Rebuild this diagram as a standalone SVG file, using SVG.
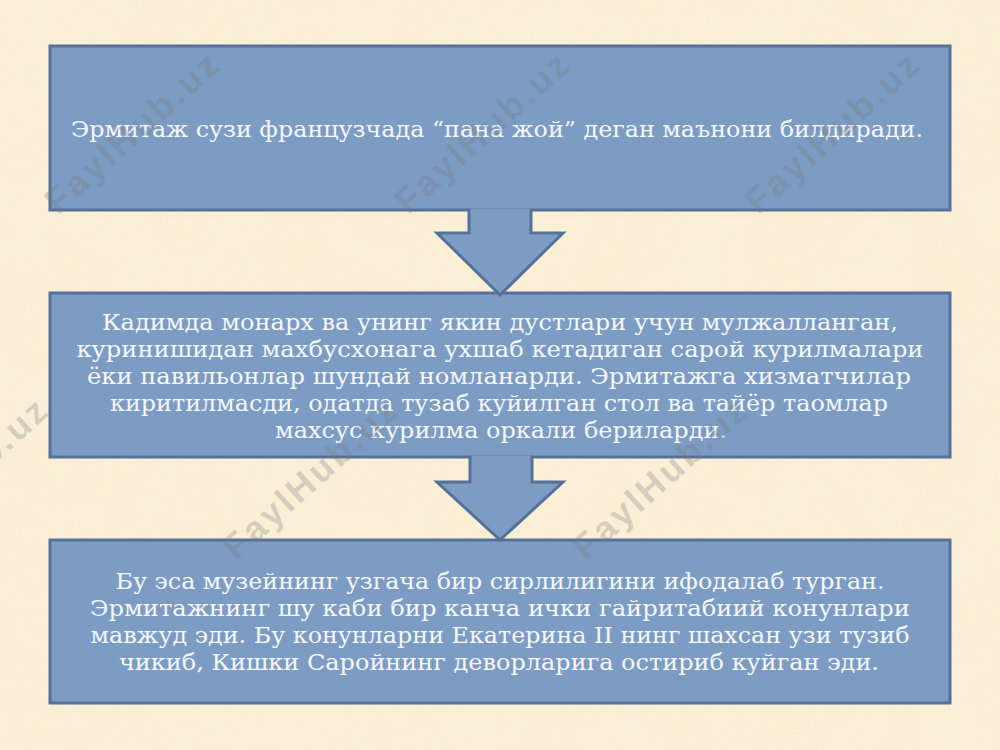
<svg xmlns="http://www.w3.org/2000/svg" width="1000" height="750" viewBox="0 0 1000 750">
<style>
.box{fill:#7c9cc4;stroke:#56709a;stroke-width:3}
.arr{fill:#7c9cc4;stroke:#56709a;stroke-width:3;stroke-linejoin:miter}
.t{font-family:"DejaVu Serif","Liberation Serif",serif;font-size:22.5px;fill:#f5f7fb;text-anchor:middle}
.wm{font-family:"Liberation Sans",Arial,sans-serif;font-weight:bold;font-size:36px;fill:#7a7a7a;fill-opacity:0.28}
</style>
<defs>
<filter id="paper" x="0" y="0" width="100%" height="100%">
<feTurbulence type="fractalNoise" baseFrequency="0.012" numOctaves="3" seed="4" result="n"/>
<feColorMatrix in="n" type="matrix" values="0 0 0 0 0.93  0 0 0 0 0.82  0 0 0 0 0.6  0 0 0 0.35 -0.05"/>
</filter>
</defs>
<rect width="1000" height="750" fill="#faf0d7"/>
<rect width="1000" height="750" filter="url(#paper)" opacity="0.6"/>
<g id="node1">
<rect class="box" x="50" y="46" width="900" height="164"/>
<text class="t" x="497" y="137" textLength="852" lengthAdjust="spacingAndGlyphs">Эрмитаж сузи французчада “пана жой” деган маънони билдиради.</text>
</g>
<g id="node2">
<rect class="box" x="50" y="293" width="900" height="164"/>
<text class="t" x="500" y="330" textLength="796" lengthAdjust="spacingAndGlyphs">Кадимда монарх ва унинг якин дустлари учун мулжалланган,</text>
<text class="t" x="500" y="357" textLength="847" lengthAdjust="spacingAndGlyphs">куринишидан махбусхонага ухшаб кетадиган сарой курилмалари</text>
<text class="t" x="499" y="384" textLength="824" lengthAdjust="spacingAndGlyphs">ёки павильонлар шундай номланарди. Эрмитажга хизматчилар</text>
<text class="t" x="499" y="411" textLength="778" lengthAdjust="spacingAndGlyphs">киритилмасди, одатда тузаб куйилган стол ва тайёр таомлар</text>
<text class="t" x="501" y="438" textLength="452" lengthAdjust="spacingAndGlyphs">махсус курилма оркали бериларди.</text>
</g>
<g id="node3">
<rect class="box" x="50" y="540" width="900" height="163"/>
<text class="t" x="500" y="589" textLength="769" lengthAdjust="spacingAndGlyphs">Бу эса музейнинг узгача бир сирлилигини ифодалаб турган.</text>
<text class="t" x="500" y="616" textLength="820" lengthAdjust="spacingAndGlyphs">Эрмитажнинг шу каби бир канча ички гайритабиий конунлари</text>
<text class="t" x="500" y="643" textLength="819" lengthAdjust="spacingAndGlyphs">мавжуд эди. Бу конунларни Екатерина II нинг шахсан узи тузиб</text>
<text class="t" x="499" y="670" textLength="760" lengthAdjust="spacingAndGlyphs">чикиб, Кишки Саройнинг деворларига остириб куйган эди.</text>
</g>
<g id="connectors">
<path class="arr" d="M469,208.5 V233 H437 L500,295 L563,233 H531 V208.5"/>
<path class="arr" d="M470,455.5 V482 H437 L500,540 L563,482 H532 V455.5"/>
</g>
<g id="watermarks">
<text class="wm" transform="translate(140,142) rotate(-42)" text-anchor="middle" textLength="220">FaylHub.uz</text>
<text class="wm" transform="translate(490,142) rotate(-42)" text-anchor="middle" textLength="220">FaylHub.uz</text>
<text class="wm" transform="translate(840,142) rotate(-42)" text-anchor="middle" textLength="220">FaylHub.uz</text>
<text class="wm" transform="translate(318,488) rotate(-42)" text-anchor="middle" textLength="220">FaylHub.uz</text>
<text class="wm" transform="translate(668,488) rotate(-42)" text-anchor="middle" textLength="220">FaylHub.uz</text>
<text class="wm" transform="translate(-32,488) rotate(-42)" text-anchor="middle" textLength="220">FaylHub.uz</text>
</g>
</svg>
